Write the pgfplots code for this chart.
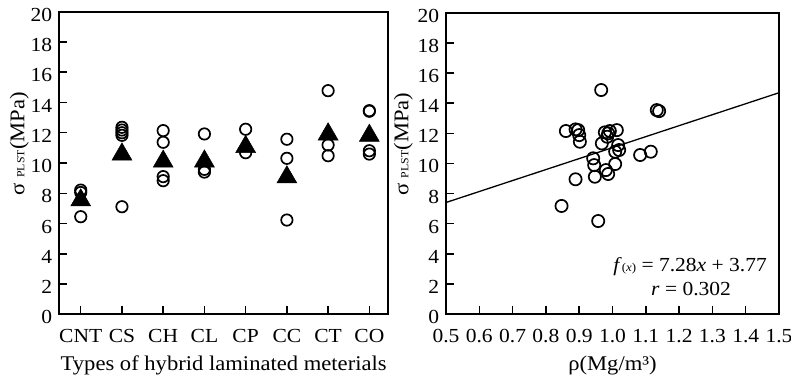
\documentclass[border=0pt]{standalone}
\usepackage{fontspec}
\setmainfont{Liberation Serif}[FakeStretch=1.08]
\usepackage{pgfplots}
\pgfplotsset{compat=1.18}
\begin{document}
\fontsize{20}{24}\selectfont
\begin{tikzpicture}
\pgfplotsset{
  myax/.style={
    scale only axis,
    axis line style={line width=2bp},
    tick align=inside,
    major tick length=8bp,
    tick style={line width=1.5bp, black},
    xtick pos=lower, ytick pos=left,
    ymin=0, ymax=20, ytick={0,2,...,20},
    /pgf/number format/assume math mode=true,
    tick label style={font=\fontsize{20}{24}\selectfont},
    label style={font=\fontsize{21}{24}\selectfont},
    yticklabel style={yshift=-3bp},
    xticklabel style={yshift=-8bp},
    ylabel={σ\hspace{0.25em}{\fontsize{11}{11}\selectfont PLST}(MPa)},
  }
}
\begin{axis}[myax,
  at={(59bp,64.7bp)}, anchor=south west,
  width=329.3bp, height=302.6bp,
  xmin=-0.527, xmax=7.46,
  xtick={0,...,7},
  xticklabels={CNT,CS,CH,CL,CP,CC,CT,CO},
  xlabel={Types of hybrid laminated meterials},
  ylabel style={at={(axis description cs:-0.091,0.564)}, anchor=south, inner sep=0pt, rotate=0},
]
\addplot[only marks, mark=o, mark size=5.7bp, line width=1.7bp] coordinates {
 (0,8.21) (0,8.05) (0,6.45)
 (1,12.36) (1,12.18) (1,12.0) (1,11.83) (1,7.11)
 (2,12.14) (2,11.37) (2,9.1) (2,8.83)
 (3,11.92) (3,9.58) (3,9.4)
 (4,12.23) (4,10.68)
 (5,11.57) (5,10.31) (5,6.23)
 (6,14.78) (6,11.19) (6,10.48)
 (7,13.46) (7,13.42) (7,10.81) (7,10.59)
};
\addplot[only marks, mark=triangle*, mark size=11.5bp, black, line width=0.5bp] coordinates {
 (0,7.54) (1,10.57) (2,10.1) (3,10.11) (4,11.07) (5,9.06) (6,11.9) (7,11.81)
};
\end{axis}
\begin{axis}[myax,
  at={(446bp,64.8bp)}, anchor=south west,
  width=333bp, height=301.5bp,
  xmin=0.5, xmax=1.5,
  xtick={0.5,0.6,0.7,0.8,0.9,1.0,1.1,1.2,1.3,1.4,1.5},
  xticklabels={0.5,0.6,0.7,0.8,0.9,1.0,1.1,1.2,1.3,1.4,1.5},
  xlabel={ρ(Mg/m³)},
  ylabel style={at={(axis description cs:-0.099,0.564)}, anchor=south, inner sep=0pt},
]
\addplot[no marks, line width=1.3bp] coordinates {(0.5,7.41) (1.5,14.69)};
\addplot[only marks, mark=o, mark size=6.1bp, line width=1.7bp] coordinates {
 (0.860,12.15) (0.889,12.26) (0.897,12.21) (0.900,11.88) (0.902,11.44)
 (0.968,11.33) (0.977,12.06) (0.987,12.0) (0.992,12.15) (1.013,12.21)
 (1.017,11.22) (1.020,10.89) (1.008,10.78) (0.942,10.34) (0.945,9.89)
 (0.947,9.12) (0.980,9.56) (0.987,9.30) (1.008,9.96) (1.083,10.56)
 (1.115,10.78) (1.133,13.54) (1.140,13.47) (0.889,8.95) (0.957,6.18)
 (0.847,7.18) (0.966,14.87) (0.984,11.77)
};
\node[anchor=base, font=\fontsize{20}{24}\selectfont] at (axis cs:1.233,2.82)
  {\textit{f}{\fontsize{12}{12}\selectfont(\textit{x})} = 7.28\textit{x} + 3.77};
\node[anchor=base, font=\fontsize{20}{24}\selectfont] at (axis cs:1.236,1.27)
  {\textit{r} = 0.302};
\end{axis}
\pgfresetboundingbox
\path[use as bounding box] (0,0) rectangle (791bp,379bp);
\end{tikzpicture}
\end{document}
